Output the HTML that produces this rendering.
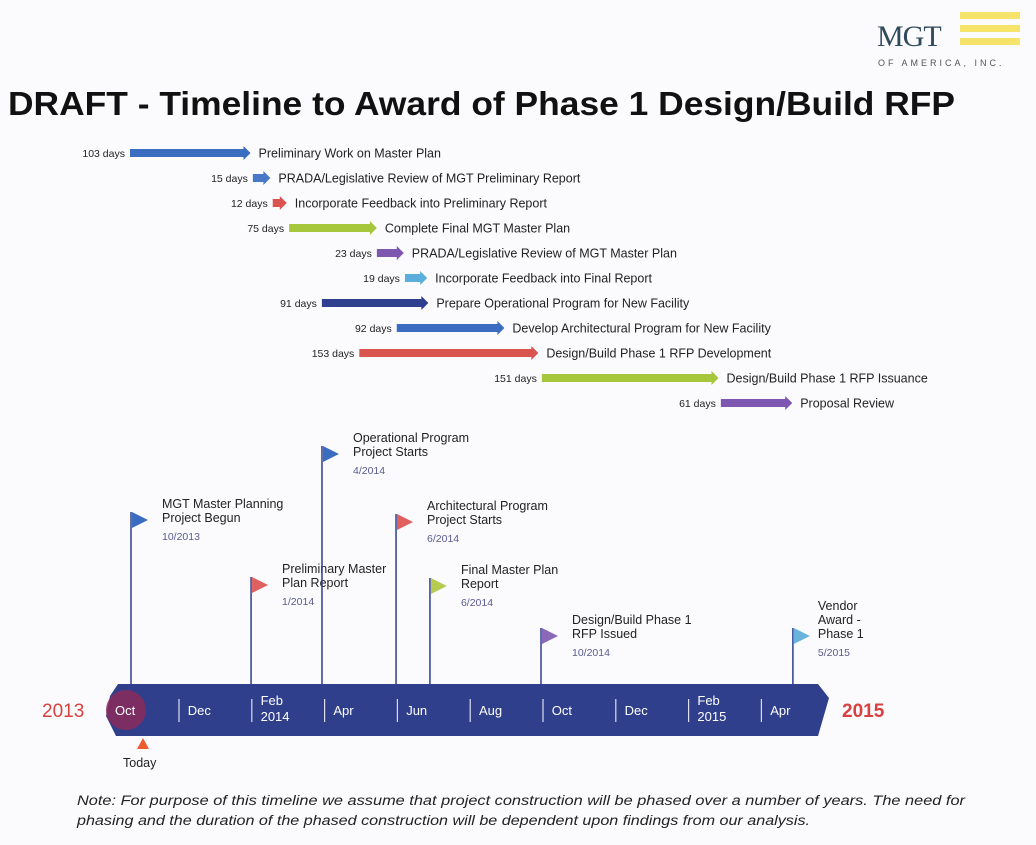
<!DOCTYPE html>
<html><head><meta charset="utf-8"><style>
body{margin:0;background:#fbfbfd;width:1036px;height:845px;overflow:hidden;font-family:"Liberation Sans",sans-serif}
</style></head><body>
<svg width="1036" height="845" style="position:absolute;left:0;top:0">
<g>
<text x="877" y="46" font-family="Liberation Serif" font-size="30" fill="#2f4a5a" letter-spacing="-1">MGT</text>
<rect x="960" y="12" width="60" height="7" fill="#f5e36a"/><rect x="960" y="25" width="60" height="7" fill="#f5e36a"/><rect x="960" y="38" width="60" height="7" fill="#f5e36a"/>
<text x="878" y="66" font-size="9" fill="#555" letter-spacing="3">OF AMERICA, INC.</text>
</g>
<text x="8" y="115" font-size="33" font-weight="bold" fill="#111" textLength="947" lengthAdjust="spacingAndGlyphs">DRAFT - Timeline to Award of Phase 1 Design/Build RFP</text>
<g id="gantt"></g>
<g id="flags"></g>
<g id="axis"></g>
<text x="77" y="805" font-size="13.5" font-style="italic" fill="#222" textLength="888" lengthAdjust="spacingAndGlyphs">Note:  For purpose of this timeline we assume that project construction will be phased over a number of years. The need for</text>
<text x="77" y="825" font-size="13.5" font-style="italic" fill="#222" textLength="733" lengthAdjust="spacingAndGlyphs">phasing and the duration of the phased construction will be dependent upon findings from our analysis.</text>
</svg>
<script>
const taskNames=["Preliminary Work on Master Plan","PRADA/Legislative Review of MGT Preliminary Report","Incorporate Feedback into Preliminary Report","Complete Final MGT Master Plan","PRADA/Legislative Review of MGT Master Plan","Incorporate Feedback into Final Report","Prepare Operational Program for New Facility","Develop Architectural Program for New Facility","Design/Build Phase 1 RFP Development","Design/Build Phase 1 RFP Issuance","Proposal Review"];
const taskStart=[0,105,122,136,211,235,164,228,196,352,505];
const taskDays=[103,15,12,75,23,19,91,92,153,151,61];
const taskColors=["#3a6cc0","#4a78c8","#d9534f","#a6c63c","#7e57b0","#5aaedc","#2e3f8f","#3a6cc0","#d9534f","#a6c63c","#7e57b0"];
const flagTitles=[["MGT Master Planning","Project Begun"],["Preliminary Master","Plan Report"],["Operational Program","Project Starts"],["Architectural Program","Project Starts"],["Final Master Plan","Report"],["Design/Build Phase 1","RFP Issued"],["Vendor","Award -","Phase 1"]];
const flagDates=["10/2013","1/2014","4/2014","6/2014","6/2014","10/2014","5/2015"];
const flagMonth=[0,3.47,5.52,7.66,8.64,11.85,19.13];
const flagTop=[512,577,446,514,578,628,628];
const flagColors=["#3a6cc0","#e06060","#3a6cc0","#e06060","#b5cc50","#8a6ab8","#6ab4dc"];
const monthLabels=[["Oct"],["Dec"],["Feb","2014"],["Apr"],["Jun"],["Aug"],["Oct"],["Dec"],["Feb","2015"],["Apr"]];
const NS="http://www.w3.org/2000/svg";
function mk(t,a,p,txt){const e=document.createElementNS(NS,t);for(const k in a)e.setAttribute(k,a[k]);if(txt!=null)e.textContent=txt;p.appendChild(e);return e;}
const dx=d=>130+d*1.17, gy=i=>153+i*25, mx=m=>131+m*34.6;
const G=document.getElementById('gantt');
taskNames.forEach((n,i)=>{
 const x0=dx(taskStart[i]),x1=dx(taskStart[i]+taskDays[i]),y=gy(i);
 const p=mk('polygon',{points:`${x0},${y-4} ${x1-7},${y-4} ${x1-7},${y-7} ${x1},${y} ${x1-7},${y+7} ${x1-7},${y+4} ${x0},${y+4}`,fill:taskColors[i]},G);
 
 
 const d=mk('text',{x:x0-5,y:y+4,'font-size':10.5,'text-anchor':'end',fill:'#222'},G,taskDays[i]+' days');
 
 
 const l=mk('text',{x:x1+8,y:y+4.5,'font-size':12.5,fill:'#222'},G,n);
 
 
});
const F=document.getElementById('flags');
flagTitles.forEach((t,i)=>{
 const x=mx(flagMonth[i]),top=flagTop[i];
 const pole=mk('line',{x1:x,y1:top,x2:x,y2:684,stroke:'#2e3f8f','stroke-width':1.5},F);
 
 
 const fl=mk('polygon',{points:`${x+1},${top} ${x+17},${top+8} ${x+1},${top+16}`,fill:flagColors[i]},F);
 
 
 const tx=x+(i==6?25:31);
 const baseY=top-(t.length-1)*14+10;
 t.forEach((s,j)=>{const e=mk('text',{x:tx,y:baseY+j*14,'font-size':12.5,fill:'#222'},F,s);
 
 });
 const dd=mk('text',{x:tx,y:top+28,'font-size':10.5,fill:'#5a5a90'},F,flagDates[i]);
 
 
});
const A=document.getElementById('axis');
const band=mk('polygon',{points:'118,684 818,684 829,698 818,736 116,736 106,716 110,696',fill:'#2f3f8c'},A);


const today=mk('circle',{cx:126,cy:710,r:20,fill:'#8a2a5a',opacity:0.85},A);


monthLabels.forEach((m,i)=>{
 const x=115+i*72.8;
 if(i>0){const s=mk('line',{x1:x-8.8,y1:699,x2:x-8.8,y2:722,stroke:'#dde',"stroke-width":1.2},A);
 
 }
 m.forEach((s,j)=>{const e=mk('text',{x:x,y:m.length>1?705+j*16:715,'font-size':13,fill:'#fff'},A,s);
 
 });
});
const y1=mk('text',{x:42,y:717,'font-size':19,fill:'#d94040'},A,'2013');


const y2=mk('text',{x:842,y:717,'font-size':19,fill:'#d94040',"font-weight":"bold"},A,'2015');


const tr=mk('polygon',{points:'137,749 143,738 149,749',fill:'#f05a30'},A);


const tt=mk('text',{x:123,y:767,'font-size':12.5,fill:'#222'},A,'Today');


</script>
</body></html>
